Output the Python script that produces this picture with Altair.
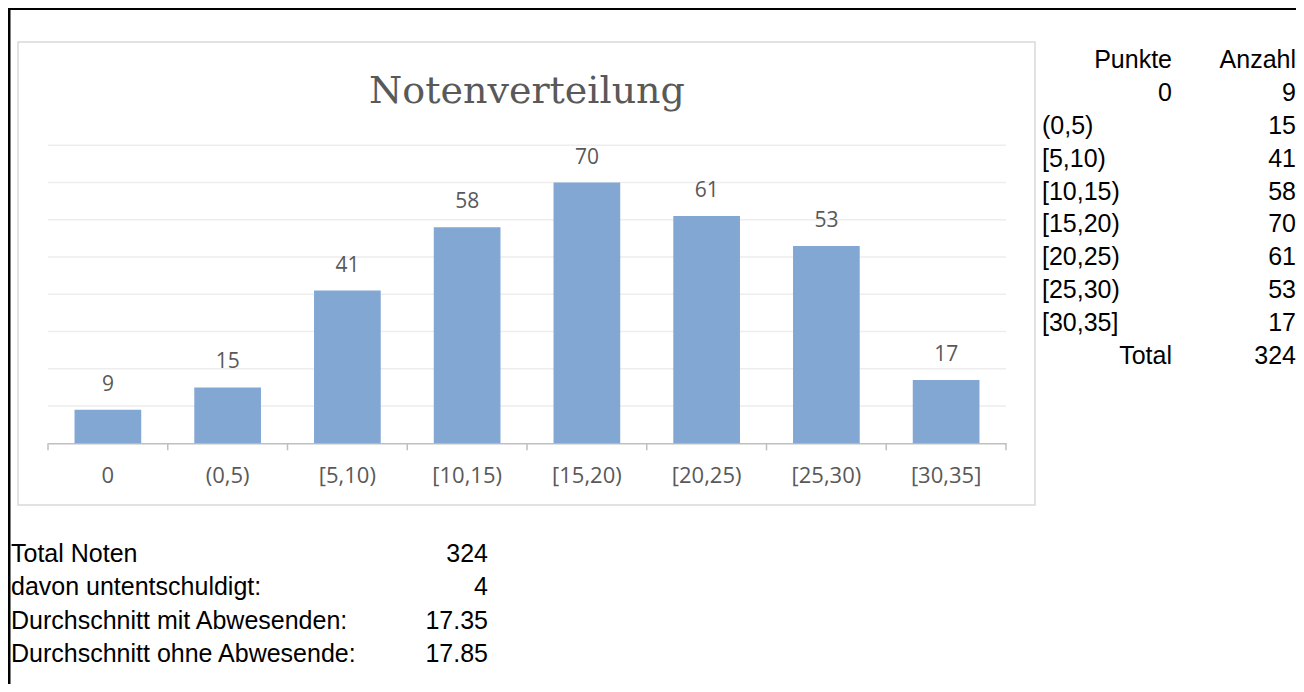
import altair as alt
import pandas as pd

# ---------------- data ----------------
categories = ["0", "(0,5)", "[5,10)", "[10,15)", "[15,20)", "[20,25)", "[25,30)", "[30,35]"]
counts = [9, 15, 41, 58, 70, 61, 53, 17]
grid_values = [10, 20, 30, 40, 50, 60, 70, 80]
chart_title = "Notenverteilung"

table_header = ["Punkte", "Anzahl"]
table_total_label = "Total"
table_total = 324

stat_labels = ["Total Noten", "davon untentschuldigt:",
               "Durchschnitt mit Abwesenden:", "Durchschnitt ohne Abwesende:"]
stat_values = ["324", "4", "17.35", "17.85"]

# ---------------- tables built from the lists ----------------
df_bars = pd.DataFrame({"cat": categories, "count": counts})
df_grid = pd.DataFrame({"v": grid_values})
# category boundaries (tick positions between the bands)
df_ticks = pd.DataFrame({"b": list(range(len(categories) + 1))})

rows = [(table_header[0], table_header[1])] + \
       [(c, str(n)) for c, n in zip(categories, counts)] + \
       [(table_total_label, str(table_total))]
df_table = pd.DataFrame({
    "row": list(range(len(rows))),
    "label": [r[0] for r in rows],
    "value": [r[1] for r in rows],
})
df_table["right"] = df_table["label"].apply(
    lambda s: s in (table_header[0], table_total_label) or s.isdigit())

df_stats = pd.DataFrame({"row": list(range(len(stat_labels))),
                         "label": stat_labels, "value": stat_values})

W, H = 1288, 676
BASE_Y = 435.3
TOP_Y = 137.3
X0, X1 = 40, 998

LABEL_FONT = "Open Sans"
GREY = "#595959"
AXIS_GREY = "#BFBFBF"
TABLE_FONT = "Liberation Sans"

x_scale = alt.Scale(domain=categories, range=[X0, X1], paddingInner=0.443, paddingOuter=0.2215)
y_scale = alt.Scale(domain=[0, 80], range=[BASE_Y, TOP_Y], nice=False, zero=True)

blank = alt.Data(values=[{"t": chart_title}])

frame_box = alt.Chart(blank).mark_rect(
    fill="white", fillOpacity=0, stroke="#D9D9D9", strokeWidth=1.5
).encode(x=alt.value(10), x2=alt.value(1027), y=alt.value(34), y2=alt.value(497))

border_top = alt.Chart(blank).mark_rule(color="black", strokeWidth=3).encode(
    x=alt.value(0), x2=alt.value(W), y=alt.value(0.5))
border_left = alt.Chart(blank).mark_rule(color="black", strokeWidth=3).encode(
    x=alt.value(1), y=alt.value(0), y2=alt.value(H))

grid = alt.Chart(df_grid).mark_rule(color="#EDEDED", strokeWidth=1.5).encode(
    y=alt.Y("v:Q", scale=y_scale, axis=None),
    x=alt.value(X0), x2=alt.value(X1))

bars = alt.Chart(df_bars).mark_bar(color="#82A7D3").encode(
    x=alt.X("cat:N", sort=categories, scale=x_scale, title=None,
            axis=alt.Axis(orient="bottom", offset=-(H - BASE_Y), labelAngle=0,
                          labelFont=LABEL_FONT, labelFontSize=22, labelColor=GREY,
                          labelPadding=22, ticks=False,
                          domainColor=AXIS_GREY, domainWidth=1.5, grid=False)),
    y=alt.Y("count:Q", scale=y_scale, axis=None))

ticks = alt.Chart(df_ticks).mark_rule(color=AXIS_GREY, strokeWidth=1.5).encode(
    x=alt.X("b:Q", scale=alt.Scale(domain=[0, len(categories)], range=[X0, X1],
                                   nice=False, zero=False), axis=None),
    y=alt.value(BASE_Y), y2=alt.value(BASE_Y + 7))

value_labels = alt.Chart(df_bars).mark_text(
    dy=-25, baseline="middle", font=LABEL_FONT, fontSize=21, color=GREY
).encode(
    x=alt.X("cat:N", sort=categories, scale=x_scale, axis=None),
    y=alt.Y("count:Q", scale=y_scale, axis=None),
    text="count:Q")

title = alt.Chart(blank).mark_text(
    font="DejaVu Serif", fontSize=38, color=GREY, align="center", baseline="alphabetic"
).encode(x=alt.value(519), y=alt.value(95), text="t:N")

table_y = alt.Y("row:Q", scale=alt.Scale(domain=[0, 9], range=[60, 356], nice=False, zero=False), axis=None)
tbl_left = alt.Chart(df_table).transform_filter("!datum.right").mark_text(
    font=TABLE_FONT, fontSize=25, color="black", align="left", baseline="alphabetic"
).encode(x=alt.value(1034), y=table_y, text="label:N")
tbl_right = alt.Chart(df_table).transform_filter("datum.right").mark_text(
    font=TABLE_FONT, fontSize=25, color="black", align="right", baseline="alphabetic"
).encode(x=alt.value(1164), y=table_y, text="label:N")
tbl_vals = alt.Chart(df_table).mark_text(
    font=TABLE_FONT, fontSize=25, color="black", align="right", baseline="alphabetic"
).encode(x=alt.value(1288), y=table_y, text="value:N")

stats_y = alt.Y("row:Q", scale=alt.Scale(domain=[0, 3], range=[554, 654], nice=False, zero=False), axis=None)
st_labels = alt.Chart(df_stats).mark_text(
    font=TABLE_FONT, fontSize=25, color="black", align="left", baseline="alphabetic"
).encode(x=alt.value(3), y=stats_y, text="label:N")
st_vals = alt.Chart(df_stats).mark_text(
    font=TABLE_FONT, fontSize=25, color="black", align="right", baseline="alphabetic"
).encode(x=alt.value(480), y=stats_y, text="value:N")

chart = alt.layer(
    frame_box, grid, bars, ticks, value_labels, title,
    tbl_left, tbl_right, tbl_vals, st_labels, st_vals,
    border_top, border_left
).resolve_scale(x="independent", y="independent").properties(
    width=W, height=H, padding=0, background="white",
    autosize=alt.AutoSizeParams(type="none")
).configure_view(stroke=None)

chart.save("out.html", embed_options={"renderer": "svg", "actions": False})
